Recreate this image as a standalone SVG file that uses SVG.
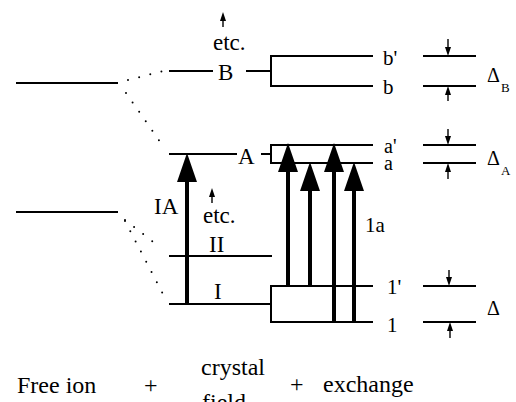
<svg xmlns="http://www.w3.org/2000/svg" width="516" height="402" viewBox="0 0 516 402">
<defs>
<style>
.lv{stroke:#000;stroke-width:2;fill:none}
.dot{stroke:#000;stroke-width:2;fill:none;stroke-linecap:round;stroke-dasharray:0 11.5}
.big{stroke:#000;stroke-width:4;fill:none}
.sm{stroke:#000;stroke-width:1.4;fill:none}
</style>
<marker id="bh" viewBox="0 -10 29 20" refX="0" refY="0" markerWidth="29" markerHeight="20" markerUnits="userSpaceOnUse" orient="auto">
<path d="M0,-10 L29,0 L0,10 Z" fill="#000"/>
</marker>
<marker id="sh" viewBox="0 -3 9 6" refX="0" refY="0" markerWidth="9" markerHeight="6" markerUnits="userSpaceOnUse" orient="auto">
<path d="M0,-3 L9,0 L0,3 Z" fill="#000"/>
</marker>
</defs>
<rect width="516" height="402" fill="#fff"/>

<g id="free-ion">
<line class="lv" x1="16" y1="83" x2="118" y2="83"/>
<line class="lv" x1="16" y1="212" x2="118" y2="212"/>
</g>

<g id="level-B">
<line class="lv" x1="169" y1="71" x2="213" y2="71"/>
<text x="218" y="80" font-family="Liberation Serif, serif" font-size="23">B</text>
<line class="lv" x1="246" y1="71" x2="271" y2="71"/>
<path class="lv" d="M373,56 H271 V86 H373"/>
</g>
<g id="level-A">
<line class="lv" x1="169" y1="154" x2="237" y2="154"/>
<text x="238" y="164" font-family="Liberation Serif, serif" font-size="23">A</text>
<line class="lv" x1="261" y1="154" x2="271" y2="154"/>
<path class="lv" d="M373,145 H271 V163 H373"/>
</g>
<g id="level-II">
<line class="lv" x1="169" y1="256" x2="272" y2="256"/>
<text x="209" y="252" font-family="Liberation Serif, serif" font-size="23">II</text>
</g>
<g id="level-I">
<line class="lv" x1="169" y1="304" x2="271" y2="304"/>
<text x="214" y="299" font-family="Liberation Serif, serif" font-size="23">I</text>
<path class="lv" d="M373,286 H271 V322 H373"/>
</g>

<g id="labels-exchange">
<text x="383" y="65" font-family="Liberation Serif, serif" font-size="21">b'</text>
<text x="383" y="94" font-family="Liberation Serif, serif" font-size="21">b</text>
<text x="384" y="153" font-family="Liberation Serif, serif" font-size="20">a'</text>
<text x="384" y="170" font-family="Liberation Serif, serif" font-size="20">a</text>
<text x="387" y="294" font-family="Liberation Serif, serif" font-size="21">1'</text>
<text x="387" y="332" font-family="Liberation Serif, serif" font-size="21">1</text>
<text x="365" y="232" font-family="Liberation Serif, serif" font-size="21">1a</text>
</g>

<g id="splitting-B">
<line class="lv" x1="423" y1="56" x2="476" y2="56"/>
<line class="lv" x1="423" y1="86" x2="476" y2="86"/>
<line class="sm" x1="448" y1="39" x2="448" y2="47" marker-end="url(#sh)"/>
<line class="sm" x1="448" y1="101" x2="448" y2="95" marker-end="url(#sh)"/>
<text x="487" y="82" font-family="Liberation Serif, serif" font-size="20">Δ</text>
<text x="501" y="92" font-family="Liberation Serif, serif" font-size="13">B</text>
</g>
<g id="splitting-A">
<line class="lv" x1="423" y1="145" x2="476" y2="145"/>
<line class="lv" x1="423" y1="163" x2="476" y2="163"/>
<line class="sm" x1="448" y1="129" x2="448" y2="136" marker-end="url(#sh)"/>
<line class="sm" x1="448" y1="179" x2="448" y2="172" marker-end="url(#sh)"/>
<text x="487" y="165" font-family="Liberation Serif, serif" font-size="20">Δ</text>
<text x="501" y="175" font-family="Liberation Serif, serif" font-size="13">A</text>
</g>
<g id="splitting-1">
<line class="lv" x1="423" y1="286" x2="476" y2="286"/>
<line class="lv" x1="423" y1="322" x2="476" y2="322"/>
<line class="sm" x1="449" y1="270" x2="449" y2="277" marker-end="url(#sh)"/>
<line class="sm" x1="450" y1="338" x2="450" y2="331" marker-end="url(#sh)"/>
<text x="487" y="315" font-family="Liberation Serif, serif" font-size="20">Δ</text>
</g>

<g id="etc-labels">
<line class="sm" x1="223" y1="27" x2="223" y2="21" marker-end="url(#sh)"/>
<text x="213" y="50" font-family="Liberation Serif, serif" font-size="23">etc.</text>
<line class="sm" x1="212" y1="203" x2="212" y2="197" marker-end="url(#sh)"/>
<text x="203" y="223" font-family="Liberation Serif, serif" font-size="23">etc.</text>
<text x="154" y="214" font-family="Liberation Serif, serif" font-size="23">IA</text>
</g>

<g id="connectors">
<path class="dot" d="M128,80 L163,71"/>
<path class="dot" d="M126,93 L163,146"/>
<path class="dot" d="M125,220 L161,248"/>
<path class="dot" d="M125,221 L164,296"/>
<line class="big" x1="187" y1="304" x2="187" y2="182" marker-end="url(#bh)"/>
<line class="big" x1="288" y1="286" x2="288" y2="172" marker-end="url(#bh)"/>
<line class="big" x1="310" y1="287" x2="310" y2="191" marker-end="url(#bh)"/>
<line class="big" x1="334" y1="322" x2="334" y2="172" marker-end="url(#bh)"/>
<line class="big" x1="354" y1="322" x2="354" y2="191" marker-end="url(#bh)"/>
</g>

<g id="bottom-labels">
<text x="17" y="393" font-family="Liberation Serif, serif" font-size="24">Free ion</text>
<text x="144" y="393" font-family="Liberation Serif, serif" font-size="24">+</text>
<text x="201" y="375" font-family="Liberation Serif, serif" font-size="24">crystal</text>
<text x="202" y="410" font-family="Liberation Serif, serif" font-size="24">field</text>
<text x="290" y="392" font-family="Liberation Serif, serif" font-size="24">+</text>
<text x="323" y="392" font-family="Liberation Serif, serif" font-size="24">exchange</text>
</g>
</svg>
